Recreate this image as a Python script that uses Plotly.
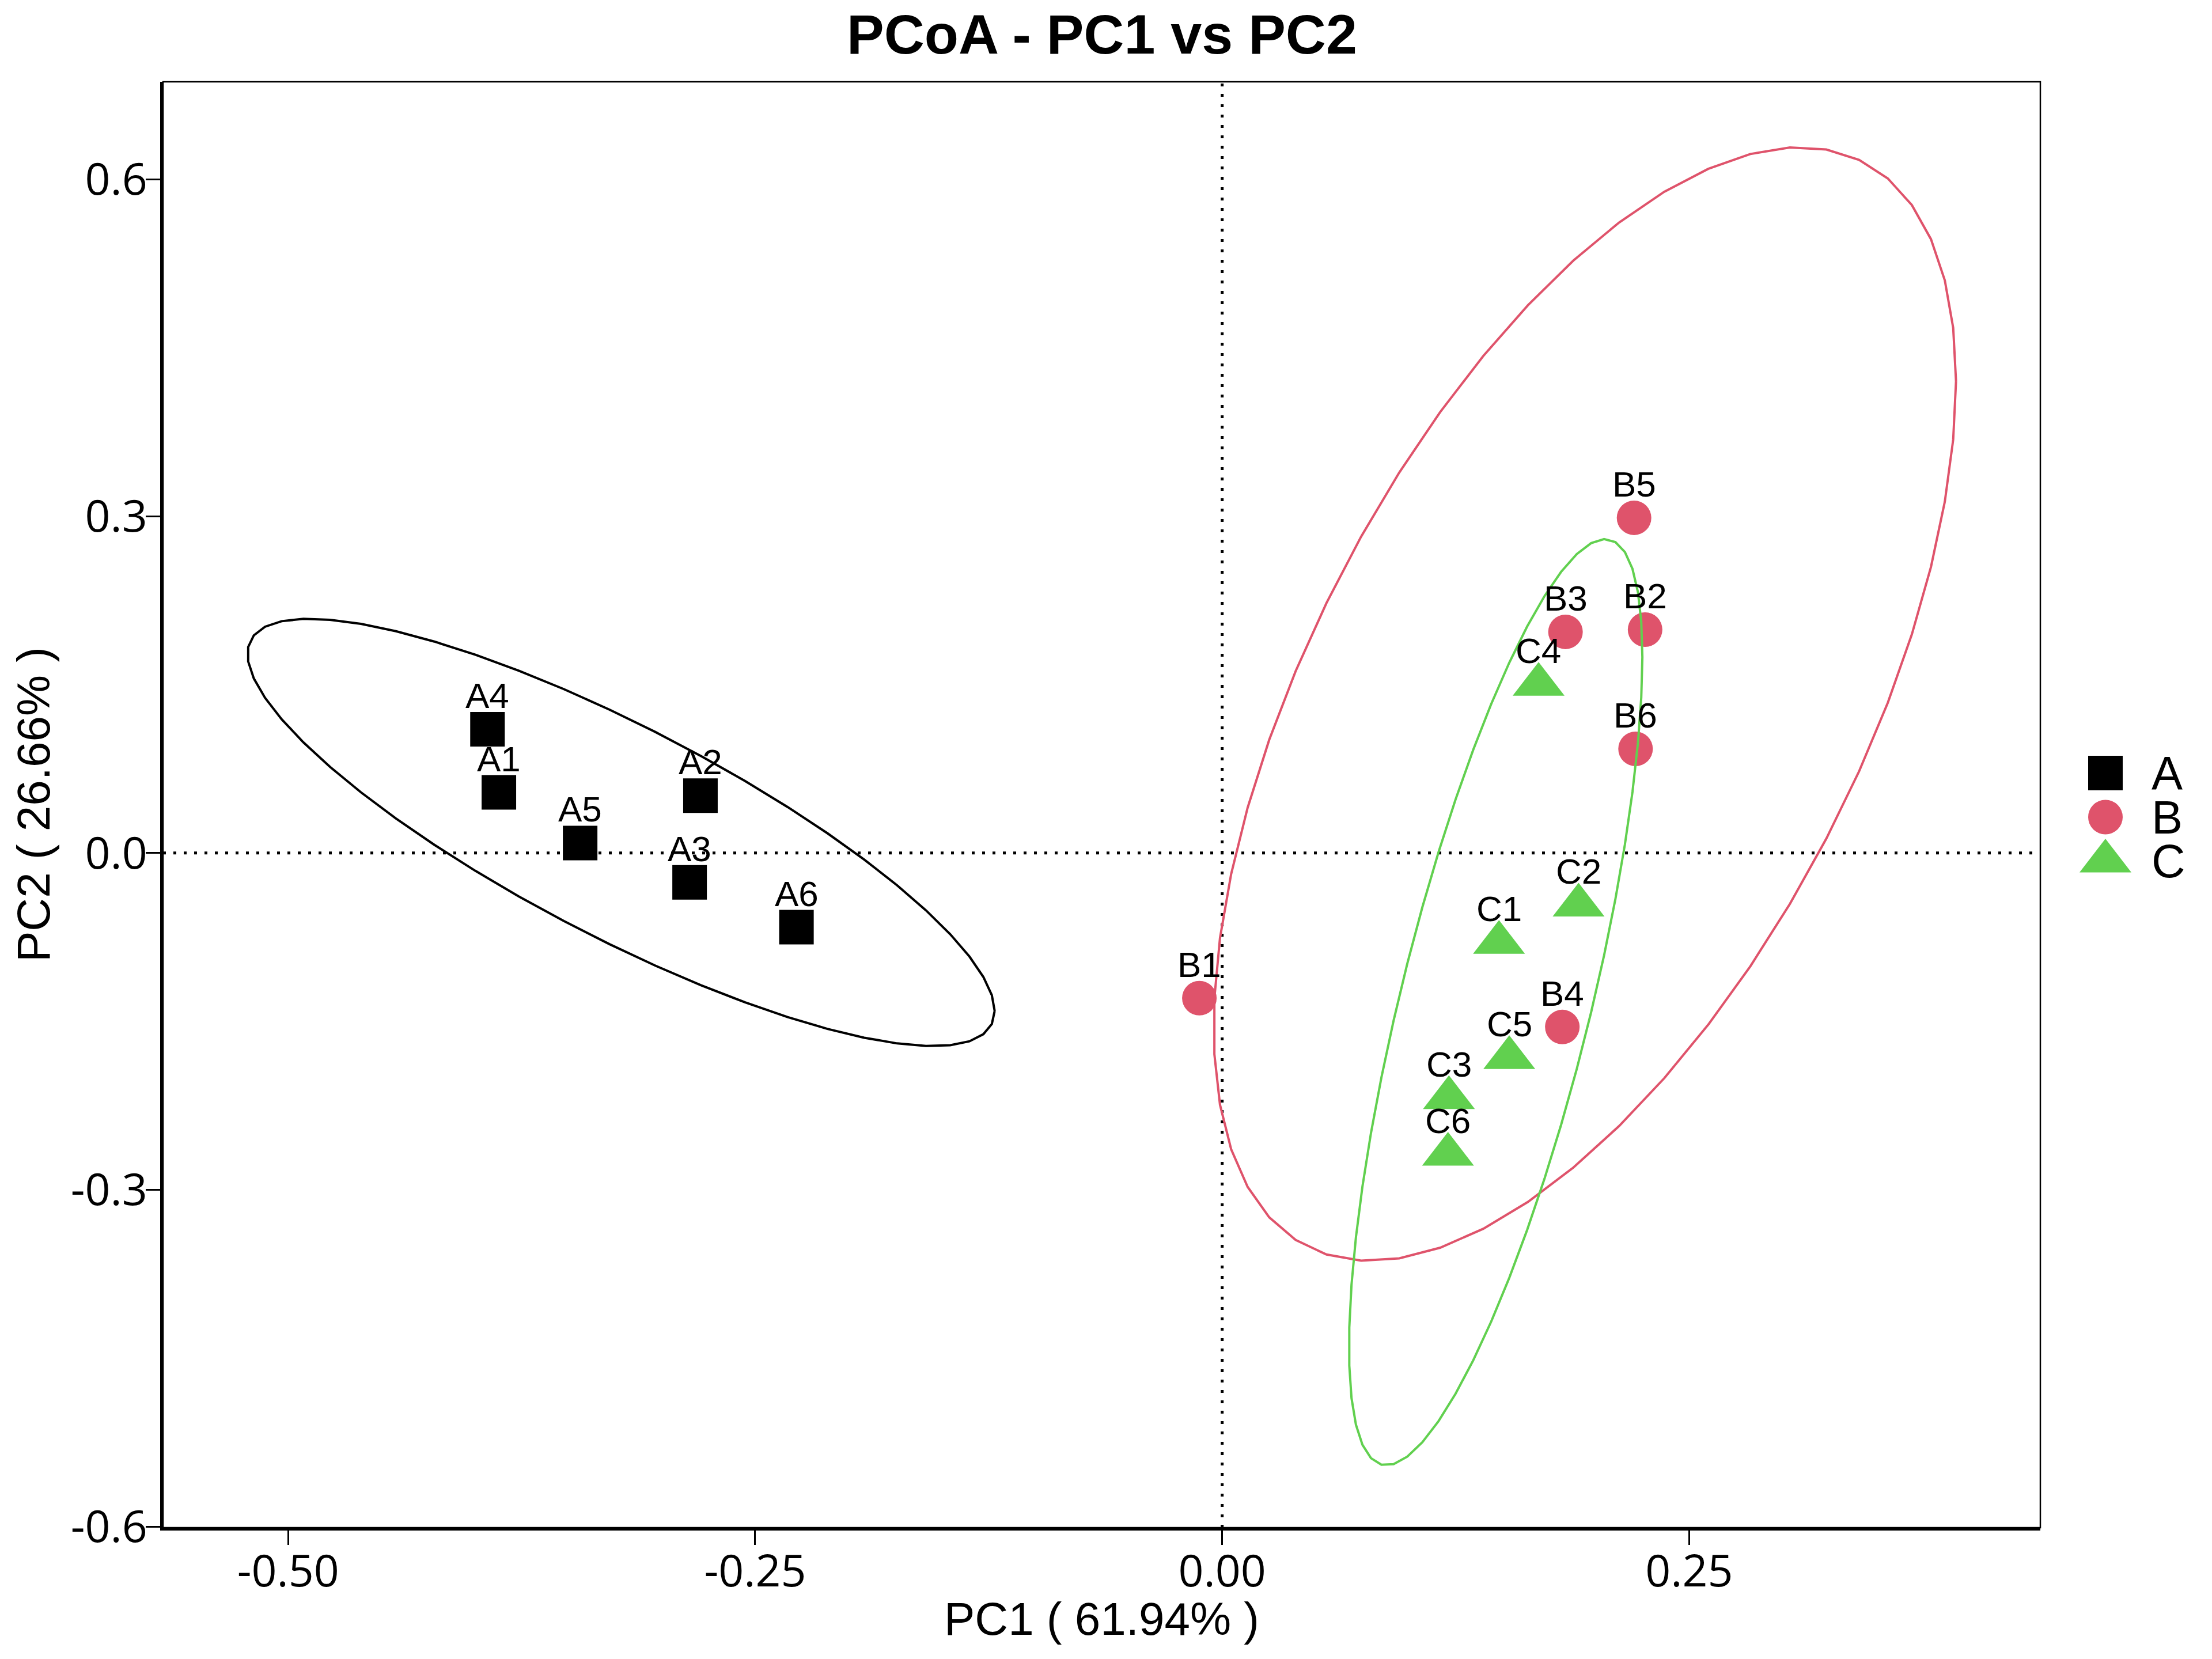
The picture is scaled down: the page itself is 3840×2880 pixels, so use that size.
import numpy as np
import plotly.graph_objects as go

# ---------------- data ----------------
groups = ["A", "B", "C"]
group_colors = ["#000000", "#DF536B", "#61D04F"]
group_symbols = ["square", "circle", "triangle-up"]

samples_A = ["A1", "A2", "A3", "A4", "A5", "A6"]
pc1_A = [-0.3872, -0.2793, -0.2851, -0.3933, -0.3437, -0.2279]
pc2_A = [0.0540, 0.0511, -0.0261, 0.1102, 0.0089, -0.0661]

samples_B = ["B1", "B2", "B3", "B4", "B5", "B6"]
pc1_B = [-0.0122, 0.2264, 0.1838, 0.1821, 0.2205, 0.2213]
pc2_B = [-0.1293, 0.1990, 0.1970, -0.1550, 0.2986, 0.0928]

samples_C = ["C1", "C2", "C3", "C4", "C5", "C6"]
pc1_C = [0.1482, 0.1908, 0.1214, 0.1694, 0.1537, 0.1209]
pc2_C = [-0.0798, -0.0465, -0.2181, 0.1501, -0.1824, -0.2685]

x_ticks = [-0.50, -0.25, 0.00, 0.25]
x_ticktext = ["-0.50", "-0.25", "0.00", "0.25"]
y_ticks = [-0.6, -0.3, 0.0, 0.3, 0.6]
y_ticktext = ["-0.6", "-0.3", "0.0", "0.3", "0.6"]

title_text = "PCoA - PC1 vs PC2"
x_title = "PC1 ( 61.94% )"
y_title = "PC2 ( 26.66% )"

data = {
    "A": (samples_A, pc1_A, pc2_A),
    "B": (samples_B, pc1_B, pc2_B),
    "C": (samples_C, pc1_C, pc2_C),
}


# ---------------- stat_ellipse(type = "t", level = 0.95) ----------------
def cov_trob(x, nu=5, maxit=25, tol=0.01):
    n, p = x.shape
    wt = np.ones(n)
    loc = (wt[:, None] * x).sum(0) / wt.sum()
    w = np.sqrt(wt)
    X = x - loc
    for _ in range(maxit):
        w0 = w
        X = x - loc
        _, d, vt = np.linalg.svd(np.sqrt(w / w.sum())[:, None] * X, full_matrices=False)
        wX = X @ vt.T @ np.diag(1.0 / d)
        Q = (wX ** 2).sum(1)
        w = (wt * (nu + p)) / (nu + Q)
        loc = (w[:, None] * x).sum(0) / w.sum()
        if np.all(np.abs(w - w0) < tol):
            break
    cov = (np.sqrt(w)[:, None] * X).T @ (np.sqrt(w)[:, None] * X) / wt.sum()
    return cov, loc


def stat_ellipse(xs, ys, level=0.95, segments=51):
    pts = np.column_stack([xs, ys])
    cov, center = cov_trob(pts)
    dfn, dfd = 2, len(xs) - 1
    fq = dfd / 2.0 * ((1 - level) ** (-2.0 / dfd) - 1)   # F(2, dfd) quantile
    radius = np.sqrt(dfn * fq)
    R = np.linalg.cholesky(cov).T
    ang = np.arange(segments + 1) * 2 * np.pi / segments
    circ = np.column_stack([np.cos(ang), np.sin(ang)])
    e = center + radius * (circ @ R)
    return e[:, 0], e[:, 1]


# ---------------- figure ----------------
W, H = 3840, 2880
ML, MR, MT, MB = 283, 0, 142, 228
plot_right = 3542
xdom_end = (plot_right - ML) / (W - ML - MR)

fig = go.Figure()
marker_sizes = {"square": 60, "circle": 60, "triangle-up": 78}

for g, col, sym in zip(groups, group_colors, group_symbols):
    names, xs, ys = data[g]
    fig.add_trace(go.Scatter(
        x=xs, y=ys, mode="markers", showlegend=False,
        marker=dict(symbol=sym, size=marker_sizes[sym], color=col, line=dict(width=0)),
        xaxis="x", yaxis="y", cliponaxis=False,
    ))

for g, col in zip(groups, group_colors):
    names, xs, ys = data[g]
    ex, ey = stat_ellipse(xs, ys)
    fig.add_trace(go.Scatter(
        x=ex, y=ey, mode="lines", showlegend=False,
        line=dict(color=col, width=4), xaxis="x", yaxis="y",
    ))

annotations = []
label_font = dict(family="Liberation Sans, Arial, sans-serif", size=62, color="black")
for g in groups:
    names, xs, ys = data[g]
    for nm, xv, yv in zip(names, xs, ys):
        annotations.append(dict(
            x=xv, y=yv, xref="x", yref="y", text=nm, showarrow=False,
            xanchor="center", yanchor="bottom", yshift=22, font=label_font,
        ))

# custom legend on an auxiliary hidden axis
for i, (g, col, sym) in enumerate(zip(groups, group_colors, group_symbols)):
    fig.add_trace(go.Scatter(
        x=[0], y=[i], mode="markers", showlegend=False,
        marker=dict(symbol=sym, size=marker_sizes[sym], color=col, line=dict(width=0)),
        xaxis="x2", yaxis="y2", cliponaxis=False,
    ))
    annotations.append(dict(
        x=0, y=i, xref="x2", yref="y2", text=g, showarrow=False,
        xanchor="left", yanchor="middle", xshift=78,
        font=dict(family="Liberation Sans, Arial, sans-serif", size=81, color="black"),
    ))

plot_h = H - MT - MB
plot_w = plot_right - ML
annotations.append(dict(
    x=0.5, y=1 + (MT - 60) / plot_h, xref="x domain", yref="y domain",
    text="<b>" + title_text + "</b>", showarrow=False, xanchor="center", yanchor="middle",
    font=dict(family="Liberation Sans, Arial, sans-serif", size=97, color="black"),
))
annotations.append(dict(
    x=0.5, y=-(2810 - (H - MB)) / plot_h, xref="x domain", yref="y domain",
    text=x_title, showarrow=False, xanchor="center", yanchor="middle",
    font=dict(family="Liberation Sans, Arial, sans-serif", size=80, color="black"),
))
annotations.append(dict(
    x=(58 - ML) / plot_w, y=0.5, xref="x domain", yref="y domain",
    text=y_title, showarrow=False, xanchor="center", yanchor="middle", textangle=-90,
    font=dict(family="Liberation Sans, Arial, sans-serif", size=80, color="black"),
))

shapes = [
    dict(type="line", xref="x", yref="y domain", x0=0, x1=0, y0=0, y1=1, layer="below",
         line=dict(color="black", width=5, dash="5px,13px")),
    dict(type="line", xref="x domain", yref="y", x0=0, x1=1, y0=0, y1=0, layer="below",
         line=dict(color="black", width=5, dash="5px,13px")),
    dict(type="rect", xref="x domain", yref="y domain", x0=0, x1=1, y0=0, y1=1,
         line=dict(color="black", width=2.5), fillcolor="rgba(0,0,0,0)", layer="above"),
]

tick_font = dict(family="Open Sans, Noto Sans, sans-serif", size=77, color="black")
# legend axis geometry
leg_cx = 3655
leg_d0px = (leg_cx - 0.25 * W) / 0.75
leg_d0 = (leg_d0px - ML) / (W - ML - MR)
row_px = 76.5
top_units = (1342 - MT) / row_px
span_units = plot_h / row_px

fig.update_layout(
    width=W, height=H,
    margin=dict(l=ML, r=MR, t=MT, b=MB, pad=0),
    paper_bgcolor="white", plot_bgcolor="white",
    showlegend=False,
    xaxis=dict(
        domain=[0, xdom_end], range=[-0.567, 0.438], tickvals=x_ticks, ticktext=x_ticktext,
        ticks="outside", ticklen=25, tickwidth=3, tickcolor="black",
        showline=True, linewidth=4.5, linecolor="black", showgrid=False, zeroline=False,
        tickfont=tick_font, anchor="y", ticklabelstandoff=-20,
    ),
    yaxis=dict(
        domain=[0, 1], range=[-0.601, 0.687], tickvals=y_ticks, ticktext=y_ticktext,
        ticks="outside", ticklen=25, tickwidth=3, tickcolor="black",
        showline=True, linewidth=4.5, linecolor="black", showgrid=False, zeroline=False,
        tickfont=tick_font, anchor="x", ticklabelstandoff=-18,
    ),
    xaxis2=dict(domain=[leg_d0, 1], range=[-1, 3], visible=False, anchor="y2", fixedrange=True),
    yaxis2=dict(domain=[0, 1], range=[span_units - top_units, -top_units], visible=False,
                anchor="x2", fixedrange=True),
    annotations=annotations,
    shapes=shapes,
)

fig.write_html("out.html")
